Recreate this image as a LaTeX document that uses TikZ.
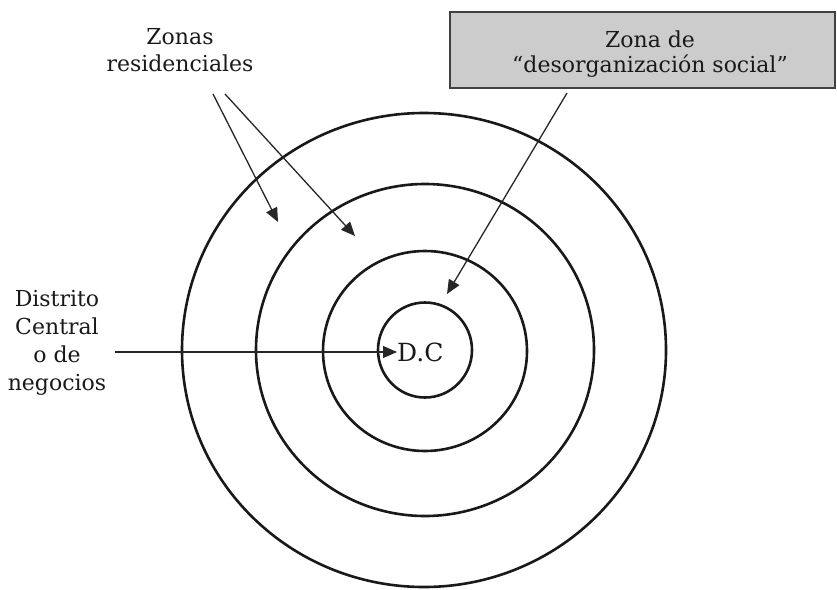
\documentclass[tikz,border=0pt]{standalone}
\usepackage{fontspec}
\setmainfont{DejaVu Serif}
\usetikzlibrary{arrows.meta,shapes.geometric}
\begin{document}
\begin{tikzpicture}[x=1pt,y=-1pt,
  ring/.style={draw=black!90, line width=2.6pt, ellipse, inner sep=0pt},
  lbl/.style={font=\fontsize{22}{26}\selectfont, align=center, inner sep=0pt, text=black!90},
  arr/.style={draw=black!85, line width=1.3pt, -{Triangle[length=14pt,width=12pt]}},
  zonebox/.style={draw=black!75, line width=1.8pt, fill=black!20, minimum width=385pt, minimum height=76pt, inner sep=0pt}]
\useasboundingbox (0,0) rectangle (837,589);

% rings
\node[ring, minimum width=484pt, minimum height=474pt] (r4) at (424,350) {};
\node[ring, minimum width=338pt, minimum height=332pt] (r3) at (425,350) {};
\node[ring, minimum width=204pt, minimum height=200pt] (r2) at (425,351) {};
\node[ring, minimum width=94pt, minimum height=95pt] (r1) at (425,350) {};

% labels
\node[lbl, font=\fontsize{22}{27}\selectfont] (zr) at (180,50) {Zonas\\residenciales};
\node[zonebox] (zbox) at (642.5,50) {};
\node[lbl, font=\fontsize{22}{25}\selectfont] (zd) at (650,54) {Zona de\\“desorganización social”};
\node[lbl, font=\fontsize{22}{28}\selectfont] (dcn) at (57,343) {Distrito\\Central\\o de\\negocios};
\node[lbl, font=\fontsize{25}{28}\selectfont, anchor=west] (dc) at (397,352) {D.C};

% arrow end points
\coordinate (z1) at (213,94);
\coordinate (z2) at (225,94);
\coordinate (t1) at (278,222);
\coordinate (t2) at (355,236);
\coordinate (b1) at (567,93);
\coordinate (t3) at (447,294);
\coordinate (dl) at (115,352);

\draw[arr] (z1) -- (t1);
\draw[arr] (z2) -- (t2);
\draw[arr] (b1) -- (t3);
\draw[arr] (dl) -- (dc.west);
\end{tikzpicture}
\end{document}
